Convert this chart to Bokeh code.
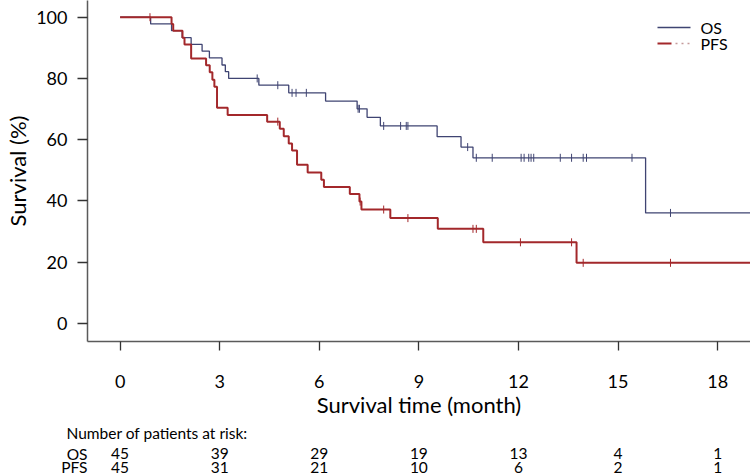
import math
from bokeh.plotting import figure
from bokeh.models import Range1d, FixedTicker
from bokeh.layouts import column
from bokeh.embed import file_html
from bokeh.resources import INLINE
from bokeh.core.properties import value

FONT = "Lato"
OS_COLOR = "#3f4472"
PFS_COLOR = "#a3282b"
AXIS_COLOR = "#5a5a5a"

# ---------------- data ----------------
os_event_times = [0.92, 1.55, 1.87, 2.14, 2.47, 2.69, 3.07, 3.17, 3.27, 4.18,
                  5.08, 6.19, 7.14, 7.44, 7.84, 9.55, 10.27, 10.63, 15.83]
os_levels = [97.8, 95.6, 93.3, 91.1, 88.9, 86.7, 84.4, 82.2, 80.0, 77.8,
             75.3, 72.6, 70.1, 67.3, 64.5, 61.0, 57.6, 54.1, 36.1]
os_censor_times = [4.13, 4.75, 5.18, 5.30, 5.61, 7.17, 7.21, 7.94, 8.45, 8.62,
                   8.67, 10.47, 10.73, 11.21, 12.08, 12.17, 12.31, 12.38, 12.46,
                   13.26, 13.60, 13.95, 14.05, 15.42, 16.58]

pfs_event_times = [1.55, 1.60, 1.88, 1.94, 2.14, 2.59, 2.70, 2.78, 2.84, 2.92,
                   3.24, 4.43, 4.81, 4.93, 5.08, 5.18, 5.33, 5.65, 6.06, 6.14,
                   6.92, 7.21, 7.27, 8.14, 9.57, 10.94, 13.75]
pfs_levels = [97.8, 95.6, 93.3, 91.1, 86.5, 84.3, 82.0, 79.6, 77.3, 70.4,
              68.1, 65.9, 63.6, 61.1, 58.8, 56.5, 51.8, 49.3, 46.9, 44.6,
              42.3, 39.8, 37.2, 34.4, 30.9, 26.5, 19.8]
pfs_censor_times = [0.90, 4.75, 7.23, 7.94, 8.67, 10.63, 10.73, 12.06, 13.60,
                    13.95, 16.58]

x_ticks = [0, 3, 6, 9, 12, 15, 18]
y_ticks = [0, 20, 40, 60, 80, 100]

risk_times = [0, 3, 6, 9, 12, 15, 18]
risk_os = [45, 39, 29, 19, 13, 4, 1]
risk_pfs = [45, 31, 21, 10, 6, 2, 1]

series_names = ["OS", "PFS"]
x_title = "Survival time (month)"
y_title = "Survival (%)"
risk_title = "Number of patients at risk:"
t_end = 19.0

# ---------------- helpers ----------------
def step_xy(times, levels):
    xs = [0.0] + list(times) + [t_end]
    ys = [100.0] + list(levels) + [levels[-1]]
    return xs, ys


def level_at(t, times, levels):
    lv = 100.0
    for tt, lvl in zip(times, levels):
        if tt <= t:
            lv = lvl
    return lv

# ---------------- layout constants ----------------
W = 750
LEFT = 87
FRAME_H = 341
BOTTOM = 80
H1 = FRAME_H + BOTTOM          # main chart
H2 = 475 - H1                  # risk table
x_start, x_end = -0.982, 18.99
y_start, y_end = -5.88, 105.45


def px_x(px):
    """horizontal canvas pixel -> data x (for legend placement)"""
    return x_start + (px - LEFT) / (W - LEFT) * (x_end - x_start)


def px_y(py):
    """vertical canvas pixel -> data y (for legend placement)"""
    return y_start + (FRAME_H - py) / FRAME_H * (y_end - y_start)


x_range = Range1d(x_start, x_end)
p = figure(width=W, height=H1, x_range=x_range,
           y_range=Range1d(y_start, y_end), output_backend="svg",
           toolbar_location=None, min_border_left=LEFT, min_border_right=0,
           min_border_top=0, min_border_bottom=BOTTOM)
p.outline_line_color = None
p.grid.visible = False

ox, oy = step_xy(os_event_times, os_levels)
fx, fy = step_xy(pfs_event_times, pfs_levels)
p.step(ox, oy, mode="after", line_color=OS_COLOR, line_width=1.3)
p.step(fx, fy, mode="after", line_color=PFS_COLOR, line_width=2.0)

os_cy = [level_at(t, os_event_times, os_levels) for t in os_censor_times]
pfs_cy = [level_at(t, pfs_event_times, pfs_levels) for t in pfs_censor_times]
p.scatter(os_censor_times, os_cy, marker="dash", angle=math.pi / 2, size=8,
          line_color=OS_COLOR, line_width=1)
p.scatter(pfs_censor_times, pfs_cy, marker="dash", angle=math.pi / 2, size=8,
          line_color=PFS_COLOR, line_width=1)

# axes
for ax in (p.xaxis[0], p.yaxis[0]):
    ax.axis_line_color = AXIS_COLOR
    ax.axis_line_width = 1.5
    ax.major_tick_line_color = "#333333"
    ax.major_tick_line_width = 1.3
    ax.minor_tick_line_color = None
    ax.major_tick_in = 0
    ax.major_label_text_font = FONT
    ax.major_label_text_font_size = "18px"
    ax.major_label_text_color = "black"
    ax.axis_label_text_font = FONT
    ax.axis_label_text_font_style = "normal"
    ax.axis_label_text_color = "black"
    ax.axis_label_text_font_size = "22px"

p.xaxis.ticker = FixedTicker(ticks=x_ticks)
p.yaxis.ticker = FixedTicker(ticks=y_ticks)
p.xaxis.axis_label = x_title
p.yaxis.axis_label = y_title
p.xaxis.major_tick_out = 9
p.xaxis.major_label_standoff = 24
p.xaxis.axis_label_standoff = 0
p.yaxis.major_tick_out = 10
p.yaxis.major_label_standoff = 10
p.yaxis.axis_label_standoff = 2

# key (top right): line samples and names
key_rows = [27, 43]
p.line([px_x(657), px_x(690)], [px_y(key_rows[0])] * 2, line_color=OS_COLOR,
       line_width=1.3)
p.line([px_x(657), px_x(671)], [px_y(key_rows[1])] * 2, line_color=PFS_COLOR,
       line_width=2)
p.line([px_x(675), px_x(690)], [px_y(key_rows[1])] * 2, line_color="#c49a9a",
       line_width=1.6, line_dash="2 4")
p.text(x=[px_x(700)] * 2, y=[px_y(r) for r in key_rows], text=series_names,
       text_font=value(FONT), text_font_size="16px", text_color="black",
       text_align="left", text_baseline="middle")

# ---------------- number-at-risk table ----------------
p2 = figure(width=W, height=H2, x_range=x_range, y_range=Range1d(34, 0),
            output_backend="svg", toolbar_location=None, title=risk_title,
            x_axis_location=None, min_border_left=LEFT, min_border_right=0,
            min_border_top=20, min_border_bottom=0)
p2.outline_line_color = None
p2.grid.visible = False
p2.title.align = "left"
p2.title.offset = -21
p2.title.standoff = 0
p2.title.text_font = FONT
p2.title.text_font_style = "normal"
p2.title.text_font_size = "15.5px"
p2.title.text_color = "black"

row_pos = [12, 26]
ya = p2.yaxis[0]
ya.ticker = FixedTicker(ticks=row_pos)
ya.major_label_overrides = {row_pos[0]: series_names[0], row_pos[1]: series_names[1]}
ya.axis_line_color = None
ya.major_tick_line_color = None
ya.minor_tick_line_color = None
ya.major_tick_out = 0
ya.major_tick_in = 0
ya.major_label_standoff = 0
ya.major_label_text_font = FONT
ya.major_label_text_font_size = "15.5px"
ya.major_label_text_color = "black"

common = dict(text_font=value(FONT), text_font_size="15.5px", text_color="black",
              text_baseline="middle", text_align="center")
p2.text(x=risk_times, y=[row_pos[0]] * len(risk_times),
        text=[str(v) for v in risk_os], **common)
p2.text(x=risk_times, y=[row_pos[1]] * len(risk_times),
        text=[str(v) for v in risk_pfs], **common)

layout = column(p, p2, spacing=0)
open("out.html", "w").write(file_html(layout, INLINE))
